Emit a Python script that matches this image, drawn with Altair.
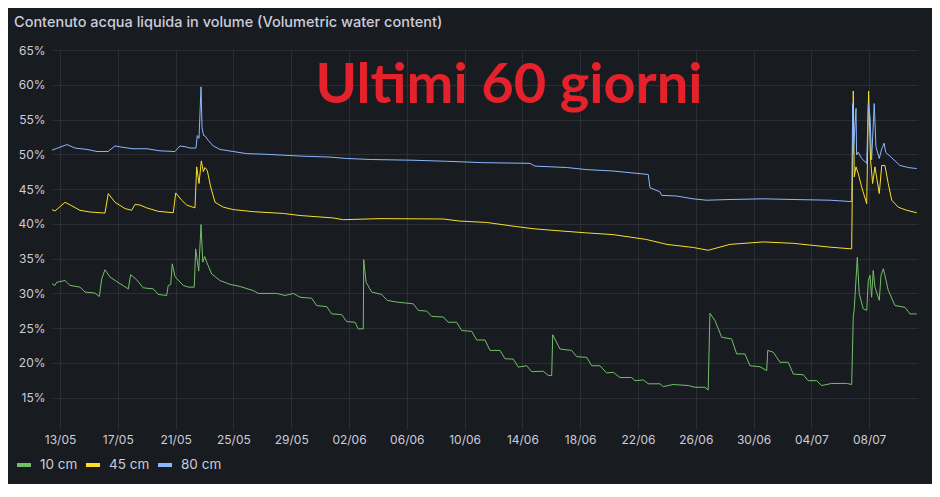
import altair as alt
import pandas as pd

START = "2024-05-13"
SERIES = ["10 cm", "45 cm", "80 cm"]
COLORS = ["#73bf69", "#fade2a", "#8ab8ff"]

# day offsets from 13/05 00:00 and volumetric water content (%)
days_10 = [-0.57, -0.35, -0.23, 0.35, 0.69, 1.38, 1.73, 2.42, 2.72, 2.89,
           3.11, 3.46, 4.15, 4.73, 4.89, 5.31, 5.76, 6.46, 6.80, 7.38,
           7.49, 7.66, 7.77, 7.96, 8.53, 8.88, 9.29, 9.39, 9.60, 9.76,
           9.88, 10.01, 10.15, 10.50, 11.07, 11.76, 12.46, 13.38, 13.72, 15.00,
           15.57, 16.15, 16.61, 17.42, 17.76, 18.46, 18.80, 19.49, 19.84, 20.42,
           20.64, 20.99, 21.02, 21.18, 21.57, 22.26, 22.65, 23.30, 24.45, 24.80,
           25.38, 25.72, 26.53, 26.87, 27.45, 27.80, 28.49, 28.84, 29.41, 29.76,
           30.45, 30.80, 31.37, 31.72, 32.30, 32.64, 33.45, 33.79, 34.03, 34.10,
           34.60, 35.41, 35.76, 36.45, 36.80, 37.37, 37.83, 38.29, 38.75, 39.56,
           39.79, 40.37, 40.71, 41.52, 41.75, 42.44, 43.48, 43.94, 44.64, 44.86,
           44.98, 45.33, 45.79, 46.48, 46.83, 47.40, 47.75, 48.44, 48.91, 48.98,
           49.36, 49.83, 50.40, 50.75, 51.44, 51.78, 52.37, 52.71, 53.40, 54.44,
           54.79, 54.90, 54.97, 55.18, 55.31, 55.59, 55.83, 55.94, 56.06, 56.17,
           56.28, 56.40, 56.70, 56.82, 56.98, 57.09, 57.32, 57.79, 58.48, 58.82,
           59.29]
vwc_10 = [31.4, 31.15, 31.6, 31.85, 31.15, 30.9, 30.2, 30.05, 29.55, 32.1,
          33.4, 32.35, 31.4, 30.65, 32.7, 31.95, 30.8, 30.65, 29.85, 29.7,
          31.15, 31.25, 34.25, 32.4, 31.15, 30.9, 30.9, 36.4, 33.2, 39.9,
          34.5, 35.3, 34.5, 32.8, 31.85, 31.3, 31.0, 30.4, 30.0, 30.0,
          29.7, 30.0, 29.45, 29.3, 28.25, 28.1, 27.05, 26.95, 25.95, 25.85,
          24.9, 24.9, 34.85, 31.6, 30.2, 29.85, 29.0, 28.75, 28.5, 27.55,
          27.45, 26.7, 26.6, 25.85, 25.85, 24.65, 24.55, 23.3, 23.3, 21.8,
          21.8, 20.6, 20.55, 19.4, 19.6, 18.75, 18.8, 18.2, 18.2, 24.05,
          22.0, 21.8, 20.9, 20.8, 19.6, 19.6, 18.55, 18.65, 17.9, 17.9,
          17.45, 17.55, 17.0, 17.0, 16.6, 16.9, 16.75, 16.5, 16.5, 16.1,
          27.15, 26.1, 23.7, 23.45, 21.3, 21.3, 19.6, 19.45, 18.9, 21.8,
          21.55, 20.1, 20.1, 18.4, 18.3, 17.45, 17.45, 16.75, 17.05, 17.05,
          16.9, 26.6, 27.8, 35.2, 29.95, 27.8, 27.55, 31.85, 32.6, 29.45,
          33.3, 30.9, 29.0, 32.6, 33.55, 32.6, 30.45, 28.25, 28.0, 27.05,
          27.05]

days_45 = [-0.55, -0.35, 0.35, 0.81, 1.38, 2.08, 3.11, 3.34, 3.81, 4.50,
           4.96, 5.19, 5.54, 6.00, 6.80, 7.84, 8.01, 8.42, 8.77, 9.34,
           9.46, 9.62, 9.78, 9.92, 10.03, 10.19, 10.43, 10.73, 11.30, 11.99,
           13.38, 15.45, 16.61, 18.91, 19.61, 22.15, 26.53, 27.68, 29.53, 31.61,
           32.75, 33.91, 36.45, 38.29, 40.60, 41.99, 43.83, 44.86, 46.37, 48.67,
           50.75, 53.29, 54.79, 54.86, 54.90, 54.97, 55.09, 55.25, 55.48, 55.83,
           55.96, 56.10, 56.24, 56.40, 56.70, 56.87, 57.09, 57.32, 57.56, 58.01,
           58.60, 59.29]
vwc_45 = [42.05, 41.85, 43.1, 42.6, 41.95, 41.7, 41.55, 44.35, 43.1, 42.2,
          41.95, 42.8, 42.7, 42.3, 41.8, 41.6, 44.45, 43.4, 42.7, 42.3,
          48.2, 45.8, 49.05, 47.5, 48.1, 47.7, 45.3, 43.1, 42.4, 42.05,
          41.75, 41.5, 41.2, 40.85, 40.6, 40.75, 40.7, 40.4, 40.2, 39.6,
          39.3, 39.1, 38.7, 38.45, 37.75, 37.05, 36.6, 36.2, 37.05, 37.4,
          37.2, 36.65, 36.4, 49.6, 59.1, 46.75, 48.2, 47.2, 45.3, 42.9,
          59.1, 49.15, 45.8, 48.2, 44.35, 48.4, 48.4, 45.8, 43.4, 42.4,
          41.95, 41.6]

days_80 = [-0.55, 0.48, 1.04, 1.87, 2.56, 3.32, 3.81, 4.36, 5.05, 6.02,
           6.92, 7.96, 8.30, 8.65, 9.00, 9.41, 9.50, 9.62, 9.76, 9.83,
           9.94, 10.06, 10.26, 10.61, 11.07, 11.99, 12.92, 14.30, 16.61, 18.69,
           19.84, 21.57, 24.43, 26.76, 29.27, 32.53, 32.87, 35.07, 36.45, 38.27,
           40.71, 40.83, 41.52, 41.64, 42.68, 43.81, 44.75, 46.37, 48.67, 50.73,
           53.29, 54.79, 54.86, 54.90, 55.09, 55.13, 55.24, 55.48, 55.83, 55.94,
           56.06, 56.17, 56.35, 56.47, 56.70, 56.87, 57.04, 57.14, 57.56, 58.13,
           58.71, 59.29]
vwc_80 = [50.6, 51.4, 50.9, 50.7, 50.4, 50.4, 51.2, 51.0, 50.8, 50.8,
          50.5, 50.4, 51.2, 51.1, 50.9, 50.9, 52.7, 52.3, 59.7, 53.8,
          52.7, 52.6, 52.0, 51.2, 50.7, 50.4, 50.1, 50.0, 49.75, 49.6,
          49.4, 49.25, 49.15, 49.0, 48.8, 48.7, 48.3, 48.1, 47.8, 47.6,
          47.1, 45.2, 44.6, 44.1, 44.0, 43.6, 43.4, 43.5, 43.6, 43.5,
          43.4, 43.2, 57.3, 50.1, 56.6, 49.9, 50.3, 49.4, 48.7, 57.3,
          55.4, 49.2, 57.3, 51.1, 49.4, 50.8, 51.6, 50.3, 49.5, 48.4,
          48.1, 47.95]

x_tick_days = [0, 4, 8, 12, 16, 20, 24, 28, 32, 36, 40, 44, 48, 52, 56]
x_range_days = [-0.554, 59.38]
y_ticks = [15, 20, 25, 30, 35, 40, 45, 50, 55, 60, 65]
y_range = [10.5, 65]

TITLE = "Contenuto acqua liquida in volume (Volumetric water content)"
NOTE = "Ultimi 60 giorni"
note_day = 31.07
note_val = 57.4

base = pd.Timestamp(START)


def ts(d):
    return base + pd.Timedelta(days=d)


def dt(d):
    t = ts(d)
    return alt.DateTime(year=t.year, month=t.month, date=t.day,
                        hours=t.hour, minutes=t.minute)


rows = []
for name, days, vals in [(SERIES[0], days_10, vwc_10),
                         (SERIES[1], days_45, vwc_45),
                         (SERIES[2], days_80, vwc_80)]:
    for d, v in zip(days, vals):
        rows.append({"time": ts(d).strftime("%Y-%m-%dT%H:%M:%S"),
                     "series": name, "vwc": v})
df = pd.DataFrame(rows)

note_df = pd.DataFrame([{"time": ts(note_day).strftime("%Y-%m-%dT%H:%M:%S"),
                         "vwc": note_val, "txt": NOTE}])

x_enc = alt.X(
    "time:T",
    scale=alt.Scale(domain=[dt(x_range_days[0]), dt(x_range_days[1])]),
    axis=alt.Axis(values=[dt(d) for d in x_tick_days], format="%d/%m",
                  title=None, labelPadding=5, labelFlush=False,
                  labelOverlap=False),
)
y_enc = alt.Y(
    "vwc:Q",
    scale=alt.Scale(domain=y_range, nice=False, zero=False),
    axis=alt.Axis(values=y_ticks, labelExpr="datum.value + '%'", title=None,
                  labelPadding=7, labelOverlap=False, labelFlush=False,
                  labelBound=False),
)

lines = alt.Chart(df).mark_line(strokeWidth=1, clip=True).encode(
    x=x_enc,
    y=y_enc,
    color=alt.Color(
        "series:N",
        scale=alt.Scale(domain=SERIES, range=COLORS),
        legend=alt.Legend(
            title=None, orient="none", legendX=-37, legendY=406,
            direction="horizontal", columns=3, symbolType="stroke",
            symbolStrokeWidth=4, symbolSize=196, labelOffset=7,
            columnPadding=0, labelFontSize=13.5, labelColor="#ccccdc",
            labelFont="Inter",
        ),
    ),
)

note = alt.Chart(note_df).mark_text(
    font="Lato", fontSize=56, fontWeight="bold", color="#e5222b",
    align="center", baseline="alphabetic",
).encode(x=x_enc, y=y_enc, text="txt:N")

chart = alt.layer(lines, note).properties(
    width=866,
    height=379,
    padding={"left": 44, "top": 42, "right": 14, "bottom": 55},
    autosize=alt.AutoSizeParams(type="none"),
    title=alt.Title(TITLE, anchor="start", frame="group", dx=-38, offset=3,
                    fontSize=14.5, fontWeight=500, color="#ccccdc",
                    font="Inter", baseline="alphabetic"),
).configure(
    background="#181b1f",
).configure_view(
    stroke=None,
).configure_axis(
    domain=False, ticks=False, tickSize=0, gridColor="#2b2e34", gridWidth=1,
    labelColor="#ccccdc", labelFont="Inter", labelFontSize=12,
    labelOverlap=False,
)

chart.save("out.html", embed_options={"renderer": "svg", "actions": False})
